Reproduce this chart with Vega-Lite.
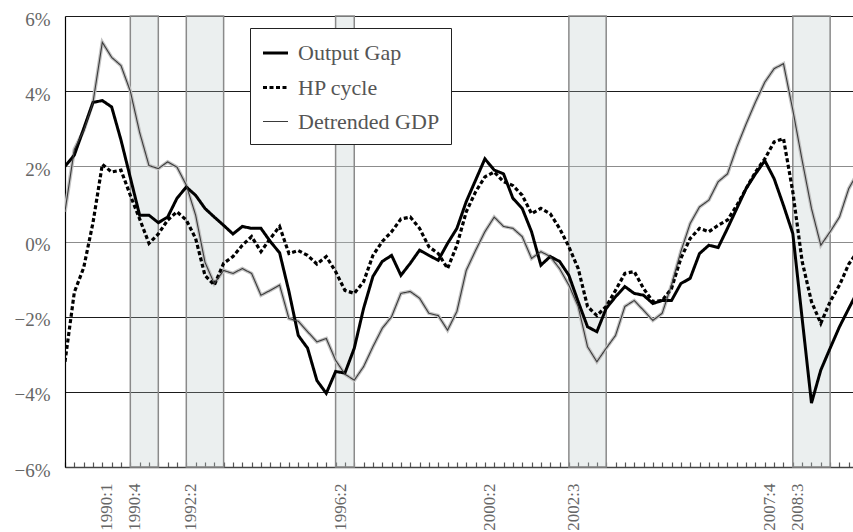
{
  "$schema": "https://vega.github.io/schema/vega-lite/v6.json",
  "width": 788,
  "height": 451,
  "autosize": "none",
  "padding": {"left": 65, "top": 16, "right": 0, "bottom": 65},
  "background": "white",
  "config": {"view": {"stroke": null}, "font": "Liberation Serif"},
  "datasets": {
    "recessions": [
      {"q": 7, "q2": 10},
      {"q": 13, "q2": 17},
      {"q": 29, "q2": 31},
      {"q": 54, "q2": 58},
      {"q": 78, "q2": 82}
    ],
    "gaps": [
      {"q": 0, "Output Gap": 2.0, "HP cycle": -3.2, "Detrended GDP": 0.8},
      {"q": 1, "Output Gap": 2.3, "HP cycle": -1.35, "Detrended GDP": 2.45},
      {"q": 2, "Output Gap": 3.0, "HP cycle": -0.7, "Detrended GDP": 2.95},
      {"q": 3, "Output Gap": 3.7, "HP cycle": 0.5, "Detrended GDP": 3.7},
      {"q": 4, "Output Gap": 3.75, "HP cycle": 2.05, "Detrended GDP": 5.3},
      {"q": 5, "Output Gap": 3.58, "HP cycle": 1.85, "Detrended GDP": 4.9},
      {"q": 6, "Output Gap": 2.7, "HP cycle": 1.9, "Detrended GDP": 4.68},
      {"q": 7, "Output Gap": 1.7, "HP cycle": 1.23, "Detrended GDP": 4.0},
      {"q": 8, "Output Gap": 0.7, "HP cycle": 0.6, "Detrended GDP": 2.9},
      {"q": 9, "Output Gap": 0.7, "HP cycle": -0.05, "Detrended GDP": 2.02},
      {"q": 10, "Output Gap": 0.5, "HP cycle": 0.2, "Detrended GDP": 1.94},
      {"q": 11, "Output Gap": 0.65, "HP cycle": 0.57, "Detrended GDP": 2.12},
      {"q": 12, "Output Gap": 1.15, "HP cycle": 0.79, "Detrended GDP": 1.98},
      {"q": 13, "Output Gap": 1.45, "HP cycle": 0.57, "Detrended GDP": 1.5},
      {"q": 14, "Output Gap": 1.23, "HP cycle": 0.08, "Detrended GDP": 0.7},
      {"q": 15, "Output Gap": 0.88, "HP cycle": -0.9, "Detrended GDP": -0.55},
      {"q": 16, "Output Gap": 0.65, "HP cycle": -1.16, "Detrended GDP": -1.12},
      {"q": 17, "Output Gap": 0.43, "HP cycle": -0.58, "Detrended GDP": -0.77},
      {"q": 18, "Output Gap": 0.2, "HP cycle": -0.4, "Detrended GDP": -0.85},
      {"q": 19, "Output Gap": 0.4, "HP cycle": -0.1, "Detrended GDP": -0.72},
      {"q": 20, "Output Gap": 0.35, "HP cycle": 0.13, "Detrended GDP": -0.85},
      {"q": 21, "Output Gap": 0.35, "HP cycle": -0.27, "Detrended GDP": -1.43},
      {"q": 22, "Output Gap": 0.0, "HP cycle": 0.08, "Detrended GDP": -1.3},
      {"q": 23, "Output Gap": -0.3, "HP cycle": 0.4, "Detrended GDP": -1.16},
      {"q": 24, "Output Gap": -1.33, "HP cycle": -0.32, "Detrended GDP": -2.05},
      {"q": 25, "Output Gap": -2.5, "HP cycle": -0.24, "Detrended GDP": -2.12},
      {"q": 26, "Output Gap": -2.84, "HP cycle": -0.37, "Detrended GDP": -2.4},
      {"q": 27, "Output Gap": -3.7, "HP cycle": -0.6, "Detrended GDP": -2.67},
      {"q": 28, "Output Gap": -4.04, "HP cycle": -0.4, "Detrended GDP": -2.58},
      {"q": 29, "Output Gap": -3.46, "HP cycle": -0.8, "Detrended GDP": -3.16},
      {"q": 30, "Output Gap": -3.5, "HP cycle": -1.3, "Detrended GDP": -3.53},
      {"q": 31, "Output Gap": -2.84, "HP cycle": -1.38, "Detrended GDP": -3.69},
      {"q": 32, "Output Gap": -1.78, "HP cycle": -1.07, "Detrended GDP": -3.33},
      {"q": 33, "Output Gap": -0.93, "HP cycle": -0.37, "Detrended GDP": -2.8},
      {"q": 34, "Output Gap": -0.53, "HP cycle": 0.0, "Detrended GDP": -2.31},
      {"q": 35, "Output Gap": -0.37, "HP cycle": 0.26, "Detrended GDP": -2.0},
      {"q": 36, "Output Gap": -0.9, "HP cycle": 0.6, "Detrended GDP": -1.38},
      {"q": 37, "Output Gap": -0.58, "HP cycle": 0.65, "Detrended GDP": -1.33},
      {"q": 38, "Output Gap": -0.23, "HP cycle": 0.35, "Detrended GDP": -1.51},
      {"q": 39, "Output Gap": -0.37, "HP cycle": -0.14, "Detrended GDP": -1.91},
      {"q": 40, "Output Gap": -0.5, "HP cycle": -0.32, "Detrended GDP": -1.97},
      {"q": 41, "Output Gap": -0.05, "HP cycle": -0.72, "Detrended GDP": -2.36},
      {"q": 42, "Output Gap": 0.35, "HP cycle": -0.1, "Detrended GDP": -1.86},
      {"q": 43, "Output Gap": 1.06, "HP cycle": 0.79, "Detrended GDP": -0.77},
      {"q": 44, "Output Gap": 1.63, "HP cycle": 1.32, "Detrended GDP": -0.24},
      {"q": 45, "Output Gap": 2.2, "HP cycle": 1.72, "Detrended GDP": 0.26},
      {"q": 46, "Output Gap": 1.9, "HP cycle": 1.85, "Detrended GDP": 0.65},
      {"q": 47, "Output Gap": 1.8, "HP cycle": 1.59, "Detrended GDP": 0.4},
      {"q": 48, "Output Gap": 1.15, "HP cycle": 1.49, "Detrended GDP": 0.35},
      {"q": 49, "Output Gap": 0.88, "HP cycle": 1.23, "Detrended GDP": 0.13},
      {"q": 50, "Output Gap": 0.26, "HP cycle": 0.74, "Detrended GDP": -0.45},
      {"q": 51, "Output Gap": -0.63, "HP cycle": 0.88, "Detrended GDP": -0.27},
      {"q": 52, "Output Gap": -0.4, "HP cycle": 0.74, "Detrended GDP": -0.4},
      {"q": 53, "Output Gap": -0.53, "HP cycle": 0.35, "Detrended GDP": -0.72},
      {"q": 54, "Output Gap": -0.9, "HP cycle": -0.14, "Detrended GDP": -1.16},
      {"q": 55, "Output Gap": -1.6, "HP cycle": -0.72, "Detrended GDP": -1.73},
      {"q": 56, "Output Gap": -2.27, "HP cycle": -1.73, "Detrended GDP": -2.8},
      {"q": 57, "Output Gap": -2.4, "HP cycle": -1.97, "Detrended GDP": -3.2},
      {"q": 58, "Output Gap": -1.78, "HP cycle": -1.73, "Detrended GDP": -2.84},
      {"q": 59, "Output Gap": -1.47, "HP cycle": -1.3, "Detrended GDP": -2.5},
      {"q": 60, "Output Gap": -1.2, "HP cycle": -0.85, "Detrended GDP": -1.73},
      {"q": 61, "Output Gap": -1.38, "HP cycle": -0.8, "Detrended GDP": -1.57},
      {"q": 62, "Output Gap": -1.43, "HP cycle": -1.25, "Detrended GDP": -1.83},
      {"q": 63, "Output Gap": -1.65, "HP cycle": -1.6, "Detrended GDP": -2.1},
      {"q": 64, "Output Gap": -1.57, "HP cycle": -1.57, "Detrended GDP": -1.91},
      {"q": 65, "Output Gap": -1.57, "HP cycle": -1.25, "Detrended GDP": -1.16},
      {"q": 66, "Output Gap": -1.12, "HP cycle": -0.45, "Detrended GDP": -0.27},
      {"q": 67, "Output Gap": -0.98, "HP cycle": 0.08, "Detrended GDP": 0.48},
      {"q": 68, "Output Gap": -0.32, "HP cycle": 0.35, "Detrended GDP": 0.92},
      {"q": 69, "Output Gap": -0.1, "HP cycle": 0.26, "Detrended GDP": 1.1},
      {"q": 70, "Output Gap": -0.16, "HP cycle": 0.43, "Detrended GDP": 1.59},
      {"q": 71, "Output Gap": 0.35, "HP cycle": 0.57, "Detrended GDP": 1.8},
      {"q": 72, "Output Gap": 0.88, "HP cycle": 0.96, "Detrended GDP": 2.51},
      {"q": 73, "Output Gap": 1.41, "HP cycle": 1.41, "Detrended GDP": 3.13},
      {"q": 74, "Output Gap": 1.8, "HP cycle": 1.85, "Detrended GDP": 3.71},
      {"q": 75, "Output Gap": 2.15, "HP cycle": 2.2, "Detrended GDP": 4.24},
      {"q": 76, "Output Gap": 1.67, "HP cycle": 2.65, "Detrended GDP": 4.6},
      {"q": 77, "Output Gap": 0.96, "HP cycle": 2.74, "Detrended GDP": 4.73},
      {"q": 78, "Output Gap": 0.21, "HP cycle": 1.32, "Detrended GDP": 3.5},
      {"q": 79, "Output Gap": -2.05, "HP cycle": -0.53, "Detrended GDP": 2.16},
      {"q": 80, "Output Gap": -4.3, "HP cycle": -1.6, "Detrended GDP": 0.88},
      {"q": 81, "Output Gap": -3.42, "HP cycle": -2.18, "Detrended GDP": -0.1},
      {"q": 82, "Output Gap": -2.84, "HP cycle": -1.6, "Detrended GDP": 0.26},
      {"q": 83, "Output Gap": -2.27, "HP cycle": -1.16, "Detrended GDP": 0.65},
      {"q": 84, "Output Gap": -1.78, "HP cycle": -0.6, "Detrended GDP": 1.41},
      {"q": 85, "Output Gap": -1.3, "HP cycle": -0.25, "Detrended GDP": 1.85}
    ]
  },
  "encoding": {
    "x": {
      "field": "q",
      "type": "quantitative",
      "scale": {"domain": [0, 84.45], "nice": false, "zero": false},
      "axis": {
        "title": null,
        "values": [0,1,2,3,4,5,6,7,8,9,10,11,12,13,14,15,16,17,18,19,20,21,22,23,24,25,26,27,28,29,30,31,32,33,34,35,36,37,38,39,40,41,42,43,44,45,46,47,48,49,50,51,52,53,54,55,56,57,58,59,60,61,62,63,64,65,66,67,68,69,70,71,72,73,74,75,76,77,78,79,80,81,82,83,84],
        "labelExpr": "indexof([4,7,13,29,45,54,75,78], datum.value) >= 0 ? (1989 + floor(datum.value / 4)) + ':' + (datum.value % 4 + 1) : ''",
        "labelAngle": 270,
        "labelOffset": 4.67,
        "labelOverlap": false,
        "labelFlush": false,
        "labelBound": false,
        "labelFont": "Liberation Serif",
        "labelFontSize": 17,
        "labelColor": "#666666",
        "labelPadding": 21,
        "tickSize": -5,
        "tickColor": "#555555",
        "tickWidth": 1.2,
        "domainColor": "#444444",
        "domainWidth": 1.5,
        "grid": false
      }
    }
  },
  "layer": [
    {
      "data": {"name": "recessions"},
      "mark": {"type": "rect", "fill": "#b8c4c4", "fillOpacity": 0.28, "stroke": "#8a8a8a", "strokeWidth": 1.5},
      "encoding": {
        "x2": {"field": "q2"}
      }
    },
    {
      "data": {"name": "gaps"},
      "transform": [
        {"fold": ["Output Gap", "HP cycle", "Detrended GDP"], "as": ["series", "value"]},
        {"filter": "datum.series == 'Detrended GDP'"}
      ],
      "mark": {"type": "line", "stroke": "#c2c2c2", "strokeWidth": 3.6, "clip": true},
      "encoding": {
        "y": {
          "field": "value",
          "type": "quantitative",
          "scale": {"domain": [-6, 6], "nice": false, "zero": false},
          "axis": {
            "title": null,
            "values": [-6, -4, -2, 0, 2, 4, 6],
            "labelExpr": "format(datum.value, 'd') + '%'",
            "grid": true,
            "gridColor": {"condition": {"test": "datum.value == 0 || datum.value == 2", "value": "#8c8c8c"}, "value": "#1a1a1a"},
            "gridWidth": 1.2,
            "ticks": false,
            "domainColor": "#000000",
            "domainWidth": 1.2,
            "labelFont": "Liberation Serif",
            "labelFontSize": 19,
            "labelColor": "#666666",
            "labelPadding": 15,
            "labelOffset": 3
          }
        }
      }
    },
    {
      "data": {"name": "gaps"},
      "transform": [
        {"fold": ["Output Gap", "HP cycle", "Detrended GDP"], "as": ["series", "value"]}
      ],
      "mark": {"type": "line", "clip": true},
      "encoding": {
        "y": {"field": "value", "type": "quantitative"},
        "color": {
          "field": "series",
          "type": "nominal",
          "scale": {"domain": ["Output Gap", "HP cycle", "Detrended GDP"], "range": ["#000000", "#000000", "#3a3a3a"]},
          "legend": {
            "title": null,
            "orient": "none",
            "legendX": 185,
            "legendY": 12,
            "direction": "vertical",
            "symbolType": "stroke",
            "symbolSize": 625,
            "labelFont": "Liberation Serif",
            "labelFontSize": 22,
            "labelColor": "#555555",
            "labelOffset": 8,
            "strokeColor": "#222222",
            "fillColor": "white",
            "padding": 11,
            "rowPadding": 9
          }
        },
        "strokeDash": {
          "field": "series",
          "type": "nominal",
          "scale": {"domain": ["Output Gap", "HP cycle", "Detrended GDP"], "range": [[1, 0], [4, 2.5], [1, 0]]}
        },
        "strokeWidth": {
          "field": "series",
          "type": "nominal",
          "scale": {"type": "ordinal", "domain": ["Output Gap", "HP cycle", "Detrended GDP"], "range": [3, 3.2, 1.1]}
        }
      }
    }
  ]
}
